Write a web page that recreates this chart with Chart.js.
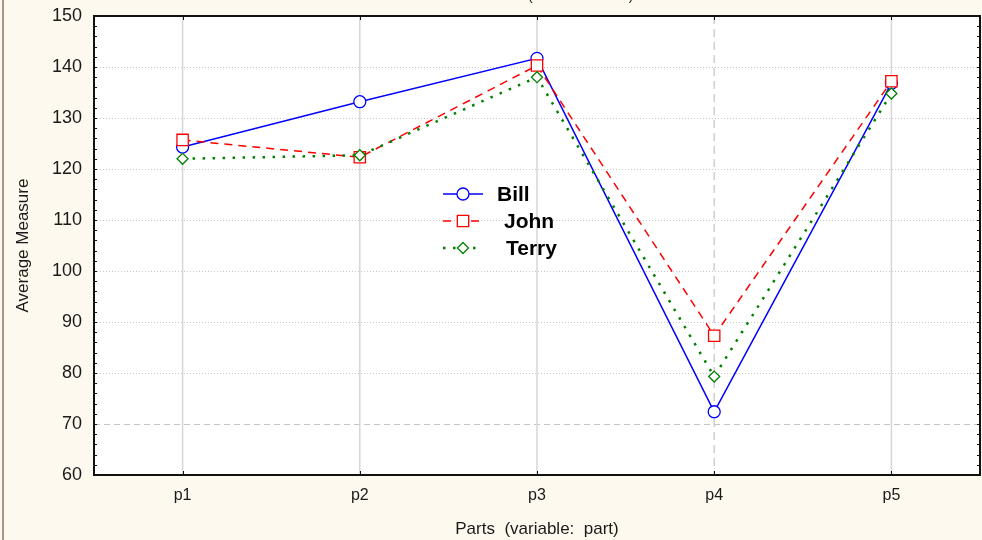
<!DOCTYPE html>
<html>
<head>
<meta charset="utf-8">
<script src="https://cdn.jsdelivr.net/npm/chart.js@4.4.1/dist/chart.umd.min.js"></script>
<style>
  html, body { margin: 0; padding: 0; background: #fdf9ee; }
  canvas { display: block; }
</style>
</head>
<body>
<canvas id="partsChart" width="982" height="540"></canvas>
<script>
// mean measure per part, one array per operator
const parts = ['p1', 'p2', 'p3', 'p4', 'p5'];
const billMeans = [124.3, 133.2, 141.7, 72.4, 136.8];
const johnMeans = [125.7, 122.3, 140.3, 87.3, 137.2];
const terryMeans = [122.0, 122.7, 138.0, 79.3, 134.8];
const yTicks = [60, 70, 80, 90, 100, 110, 120, 130, 140, 150];

const FONT = '"Liberation Sans", Arial, sans-serif';

// cream page, brown edge line and the clipped header text
const backdrop = {
  id: 'backdrop',
  beforeDraw(chart) {
    const ctx = chart.ctx;
    ctx.save();
    ctx.fillStyle = '#fdf9ee';
    ctx.fillRect(0, 0, chart.width, chart.height);
    ctx.fillStyle = '#a39884';
    ctx.fillRect(2, 0, 2, chart.height);
    const a = chart.chartArea;
    ctx.fillStyle = '#ffffff';
    ctx.fillRect(a.left, a.top, a.right - a.left, a.bottom - a.top);
    ctx.font = '14px ' + FONT;
    ctx.fillStyle = '#222';
    ctx.textBaseline = 'alphabetic';
    const head = 'Interaction Plot ';
    ctx.fillText(head + '(Measure \u00d7 Part)', 528 - ctx.measureText(head).width, 0);
    ctx.restore();
  }
};

// reference grid: dotted rows, dashed row at 70, solid columns with p4 dashed
const refGrid = {
  id: 'refGrid',
  beforeDatasetsDraw(chart) {
    const ctx = chart.ctx;
    const a = chart.chartArea;
    const xs = chart.scales.x;
    const ys = chart.scales.y;
    ctx.save();
    yTicks.forEach(v => {
      if (v <= 60 || v >= 150) return;
      const y = Math.round(ys.getPixelForValue(v)) + 0.5;
      ctx.beginPath();
      if (v === 70) {
        ctx.strokeStyle = '#c4c4c4';
        ctx.setLineDash([6, 4]);
      } else {
        ctx.strokeStyle = '#c8c8c8';
        ctx.setLineDash([1, 2]);
      }
      ctx.lineWidth = 1;
      ctx.moveTo(a.left, y);
      ctx.lineTo(a.right, y);
      ctx.stroke();
    });
    parts.forEach((p, i) => {
      const x = xs.getPixelForValue(i);
      ctx.beginPath();
      ctx.lineWidth = 1.5;
      if (p === 'p4') {
        ctx.strokeStyle = '#cfcfcf';
        ctx.setLineDash([8, 5]);
      } else {
        ctx.strokeStyle = '#d6d6d6';
        ctx.setLineDash([]);
      }
      ctx.moveTo(x, a.top);
      ctx.lineTo(x, a.bottom);
      ctx.stroke();
    });
    ctx.restore();
  }
};

// black box round the plot with inward ticks
const frame = {
  id: 'frame',
  afterDatasetsDraw(chart) {
    const ctx = chart.ctx;
    const a = chart.chartArea;
    const xs = chart.scales.x;
    const ys = chart.scales.y;
    ctx.save();
    ctx.strokeStyle = '#111';
    ctx.lineWidth = 1;
    ctx.beginPath();
    for (let v = 62; v < 150; v += 2) {
      const y = Math.round(ys.getPixelForValue(v)) + 0.5;
      ctx.moveTo(a.left, y);
      ctx.lineTo(a.left + 3, y);
      ctx.moveTo(a.right, y);
      ctx.lineTo(a.right - 3, y);
    }
    parts.forEach((p, i) => {
      const x = Math.round(xs.getPixelForValue(i)) + 0.5;
      ctx.moveTo(x, a.bottom);
      ctx.lineTo(x, a.bottom - 4);
      ctx.moveTo(x, a.top);
      ctx.lineTo(x, a.top + 4);
    });
    ctx.stroke();
    ctx.lineWidth = 2;
    ctx.strokeRect(a.left, a.top, a.right - a.left, a.bottom - a.top);
    ctx.restore();
  }
};

// legend sitting inside the plot, drawn from the dataset styles
const innerLegend = {
  id: 'innerLegend',
  afterDatasetsDraw(chart) {
    const ctx = chart.ctx;
    const rows = [194, 221, 248];
    const textX = [497, 504, 506];
    ctx.save();
    chart.data.datasets.forEach((ds, i) => {
      const y = rows[i];
      ctx.beginPath();
      ctx.strokeStyle = ds.borderColor;
      ctx.lineWidth = ds.borderWidth;
      ctx.setLineDash(ds.borderDash || []);
      ctx.moveTo(443, y);
      ctx.lineTo(483, y);
      ctx.stroke();
      ctx.setLineDash([]);
      ctx.fillStyle = ds.pointBackgroundColor;
      ctx.strokeStyle = ds.pointBorderColor;
      ctx.lineWidth = ds.pointBorderWidth;
      Chart.helpers.drawPoint(ctx, {
        pointStyle: ds.pointStyle,
        radius: ds.pointRadius,
        rotation: 0,
        borderWidth: ds.pointBorderWidth
      }, 463, y);
      ctx.fillStyle = '#000';
      ctx.font = 'bold 21px ' + FONT;
      ctx.textBaseline = 'middle';
      ctx.fillText(ds.label, textX[i], y + 1);
    });
    ctx.restore();
  }
};

new Chart(document.getElementById('partsChart'), {
  type: 'line',
  data: {
    labels: parts,
    datasets: [
      {
        label: 'Bill',
        data: billMeans,
        borderColor: '#0000ff',
        borderWidth: 1.5,
        pointStyle: 'circle',
        pointRadius: 6,
        pointBorderWidth: 1.3,
        pointBorderColor: '#0000ff',
        pointBackgroundColor: '#ffffff',
        tension: 0,
        order: 3
      },
      {
        label: 'John',
        data: johnMeans,
        borderColor: '#ff0000',
        borderWidth: 1.5,
        borderDash: [8, 6],
        pointStyle: 'rect',
        pointRadius: 8,
        pointBorderWidth: 1.3,
        pointBorderColor: '#ff0000',
        pointBackgroundColor: '#ffffff',
        tension: 0,
        order: 2
      },
      {
        label: 'Terry',
        data: terryMeans,
        borderColor: '#008000',
        borderWidth: 2.5,
        borderDash: [2.5, 7.5],
        pointStyle: 'rectRot',
        pointRadius: 5.5,
        pointBorderWidth: 1.3,
        pointBorderColor: '#008000',
        pointBackgroundColor: '#ffffff',
        tension: 0,
        order: 1
      }
    ]
  },
  options: {
    responsive: false,
    animation: false,
    layout: { autoPadding: false, padding: { top: 16, right: 2, left: 0, bottom: 0 } },
    plugins: {
      legend: { display: false },
      tooltip: { enabled: false }
    },
    scales: {
      x: {
        offset: true,
        grid: { display: false, drawTicks: false },
        border: { display: false },
        ticks: { color: '#1a1a1a', font: { family: FONT, size: 16 }, padding: 11 },
        title: {
          display: true,
          text: 'Parts  (variable:  part)',
          color: '#1a1a1a',
          font: { family: FONT, size: 17 },
          padding: { top: 0, bottom: 0 }
        },
        afterFit(scale) {
          scale.height = 65;
          scale.paddingLeft = 0;
          scale.paddingRight = 0;
        }
      },
      y: {
        min: 60,
        max: 150,
        grid: { display: false, drawTicks: false },
        border: { display: false },
        afterBuildTicks(scale) { scale.ticks = yTicks.map(v => ({ value: v })); },
        ticks: { color: '#1a1a1a', font: { family: FONT, size: 18 }, padding: 12 },
        title: {
          display: true,
          text: 'Average Measure',
          color: '#1a1a1a',
          font: { family: FONT, size: 17 },
          padding: { top: 13, bottom: 0 }
        },
        afterFit(scale) {
          scale.width = 94;
          scale.paddingTop = 0;
          scale.paddingBottom = 0;
        }
      }
    }
  },
  plugins: [backdrop, refGrid, frame, innerLegend]
});
</script>
</body>
</html>
